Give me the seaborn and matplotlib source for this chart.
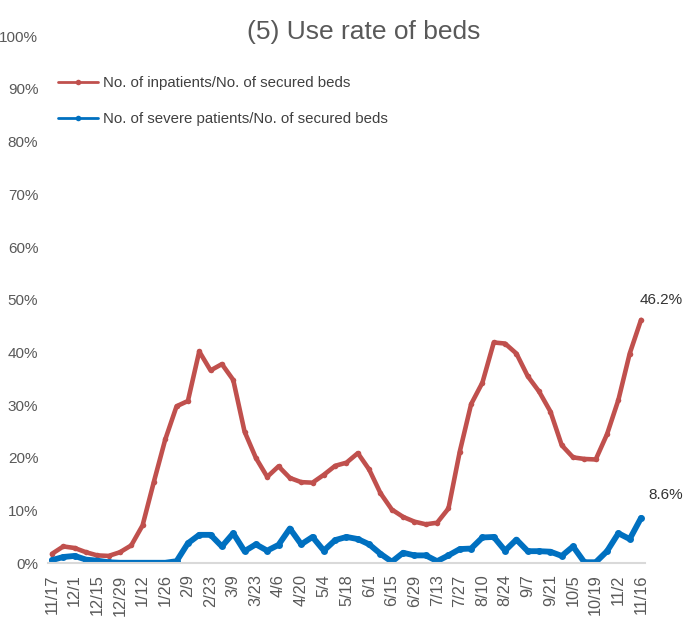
import seaborn as sns
from matplotlib import pyplot as plt
from matplotlib.lines import Line2D
import pandas as pd

# weekly dates, one label every two weeks
tick_labels = ['11/17', '12/1', '12/15', '12/29', '1/12', '1/26', '2/9', '2/23', '3/9',
               '3/23', '4/6', '4/20', '5/4', '5/18', '6/1', '6/15', '6/29', '7/13',
               '7/27', '8/10', '8/24', '9/7', '9/21', '10/5', '10/19', '11/2', '11/16']

inpatients = [1.8, 3.2, 2.9, 2.1, 1.5, 1.4, 2.1, 3.4, 7.2, 15.5, 23.5, 29.8, 30.8, 40.2,
              36.6, 37.8, 34.8, 25.0, 20.0, 16.4, 18.4, 16.2, 15.4, 15.3, 16.8, 18.5, 19.1,
              20.9, 17.8, 13.3, 10.2, 8.8, 7.9, 7.4, 7.7, 10.4, 21.2, 30.2, 34.3, 41.9,
              41.7, 39.8, 35.5, 32.6, 28.8, 22.4, 20.1, 19.8, 19.7, 24.5, 31.0, 39.8, 46.2]

severe = [0.6, 1.2, 1.4, 0.7, 0.5, 0.2, 0.1, 0.1, 0.1, 0.1, 0.1, 0.4, 3.8, 5.4, 5.4, 3.2,
          5.7, 2.3, 3.6, 2.4, 3.5, 6.6, 3.6, 5.0, 2.4, 4.4, 5.0, 4.6, 3.6, 1.8, 0.3, 2.0,
          1.5, 1.5, 0.4, 1.5, 2.7, 2.8, 4.9, 5.0, 2.4, 4.5, 2.3, 2.3, 2.2, 1.4, 3.2, 0.2,
          0.2, 2.3, 5.7, 4.6, 8.6]

red = '#C0504D'
blue = '#0070C0'
grey = '#595959'

df = pd.DataFrame({'week': range(len(inpatients)), 'inpatients': inpatients, 'severe': severe})

sns.set_theme(style='white')
plt.rcParams['font.family'] = ['Liberation Sans', 'DejaVu Sans']

fig = plt.figure(figsize=(6.87, 6.36), dpi=100)
ax = fig.add_axes([48 / 687, 1 - 563.3 / 636, 597 / 687, 527 / 636])

sns.lineplot(data=df, x='week', y='inpatients', ax=ax, color=red, linewidth=3.3,
             marker='o', markersize=4, markeredgewidth=0)
sns.lineplot(data=df, x='week', y='severe', ax=ax, color=blue, linewidth=4.2,
             marker='o', markersize=5, markeredgewidth=0)

ax.set_xlim(-0.35, len(inpatients) - 1 + 0.35)
ax.set_ylim(0, 100)
ax.set_yticks(range(0, 101, 10))
ax.set_yticklabels(['{0}%'.format(v) for v in range(0, 101, 10)])
ax.set_xticks(range(0, len(inpatients), 2))
ax.set_xticklabels(tick_labels, rotation=90)
ax.tick_params(axis='both', length=0, labelsize=11, labelcolor=grey)
ax.tick_params(axis='x', labelsize=11.8, pad=8)
ax.tick_params(axis='y', pad=7)
ax.set_xlabel('')
ax.set_ylabel('')

for s in ['top', 'right', 'left']:
    ax.spines[s].set_visible(False)
ax.spines['bottom'].set_color('#D9D9D9')
ax.spines['bottom'].set_linewidth(1.5)

# end labels
last = len(inpatients) - 1
ax.annotate('{0}%'.format(inpatients[-1]), (last, inpatients[-1]), xytext=(-1, 14),
            textcoords='offset points', ha='left', va='center', fontsize=11, color='#333333')
ax.annotate('{0}%'.format(severe[-1]), (last, severe[-1]), xytext=(5, 16.5),
            textcoords='offset points', ha='left', va='center', fontsize=11, color='#333333')

fig.text(364 / 687, 1 - 32 / 636, '(5) Use rate of beds', ha='center', va='center',
         fontsize=19, color=grey)

handles = [Line2D([], [], color=red, linewidth=2, marker='o', markersize=4, markeredgewidth=0),
           Line2D([], [], color=blue, linewidth=2, marker='o', markersize=4, markeredgewidth=0)]
ax.legend(handles, ['No. of inpatients/No. of secured beds', 'No. of severe patients/No. of secured beds'],
          loc='upper left', bbox_to_anchor=(44 / 687, 1 - 63 / 636), bbox_transform=fig.transFigure,
          frameon=False, fontsize=10.8, labelspacing=1.45, handlelength=2.73, handletextpad=0.33,
          labelcolor='#404040')

fig.savefig('out.png', dpi=100)
plt.close(fig)
